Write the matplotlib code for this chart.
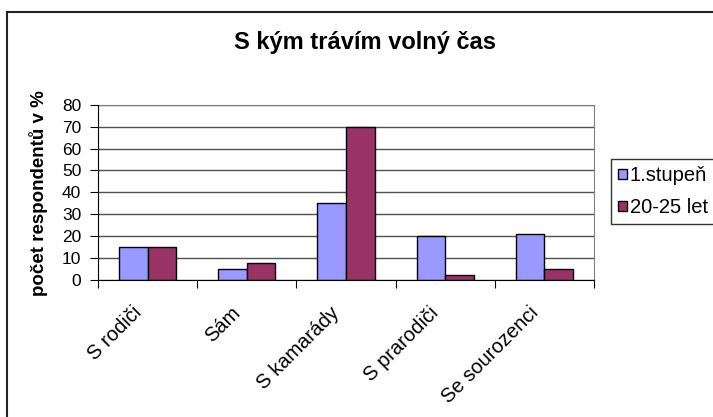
import numpy as np
import matplotlib.pyplot as plt
from matplotlib.patches import Rectangle

# Data
kategorie = ["S rodiči", "Sám", "S kamarády", "S prarodiči", "Se sourozenci"]
stupen1 = [15, 5, 35, 20, 21]
let20_25 = [15, 7.5, 70, 2, 5]
serie = ["1.stupeň", "20-25 let"]

plt.rcParams['font.family'] = ['Liberation Sans', 'DejaVu Sans']

W, H = 713, 417
fig = plt.figure(figsize=(W / 100, H / 100), dpi=100)
fig.patch.set_facecolor('white')

# outer chart frame (cut off at right and bottom)
fig.patches.append(Rectangle((7 / W, -0.1), 1.2, 1 - 12 / H + 0.1,
                             transform=fig.transFigure, fill=False,
                             edgecolor='#222222', linewidth=1.5))

ax = fig.add_axes([98 / W, 1 - 279.5 / H, (594 - 98) / W, (279.5 - 105) / H])

x = np.arange(len(kategorie))
w = 0.2875
ax.bar(x - w / 2, stupen1, w, color='#9999FF', edgecolor='black', linewidth=1, label=serie[0], zorder=3)
ax.bar(x + w / 2, let20_25, w, color='#993366', edgecolor='black', linewidth=1, label=serie[1], zorder=3)

ax.set_xlim(-0.5, len(kategorie) - 0.5)
ax.set_ylim(0, 80)
ax.set_yticks(np.arange(0, 81, 10))
ax.yaxis.grid(True, color='#505050', linewidth=1, zorder=0)
ax.set_axisbelow(True)

for s in ['top', 'right']:
    ax.spines[s].set_color('#808080')
for s in ['left', 'bottom']:
    ax.spines[s].set_color('black')
ax.spines['left'].set_zorder(4)
ax.spines['bottom'].set_zorder(4)

# ticks between categories; labels end a little left of the category centre
ax.set_xticks(np.arange(-0.5, len(kategorie)))
ax.set_xticklabels([])
ax.set_xticks(x - 0.16, minor=True)
ax.set_xticklabels(kategorie, minor=True, rotation=45, ha='right', va='top',
                   rotation_mode='anchor', fontsize=14.5)
ax.tick_params(axis='x', which='major', direction='out', length=6, color='black')
ax.tick_params(axis='x', which='minor', length=0, pad=17)
ax.tick_params(axis='y', direction='out', length=6, labelsize=12.5, pad=6)

ax.set_ylabel("počet respondentů v %", fontsize=13.5, fontweight='bold')
ax.yaxis.set_label_coords(-0.101, 0.493)

fig.text(365.5 / W, 1 - 49 / H, "S kým trávím volný čas", fontsize=17,
         fontweight='bold', ha='center', va='baseline')

leg = ax.legend(loc='upper left', bbox_to_anchor=(611 / W, 1 - 159 / H),
                bbox_transform=fig.transFigure, fontsize=14.5, frameon=True,
                fancybox=False, shadow=False, handlelength=0.42, handleheight=0.42,
                handletextpad=0.15, borderpad=0.35, labelspacing=0.65, borderaxespad=0)
leg.get_frame().set_edgecolor('black')
leg.get_frame().set_linewidth(1)

fig.savefig('out.png', dpi=100)
